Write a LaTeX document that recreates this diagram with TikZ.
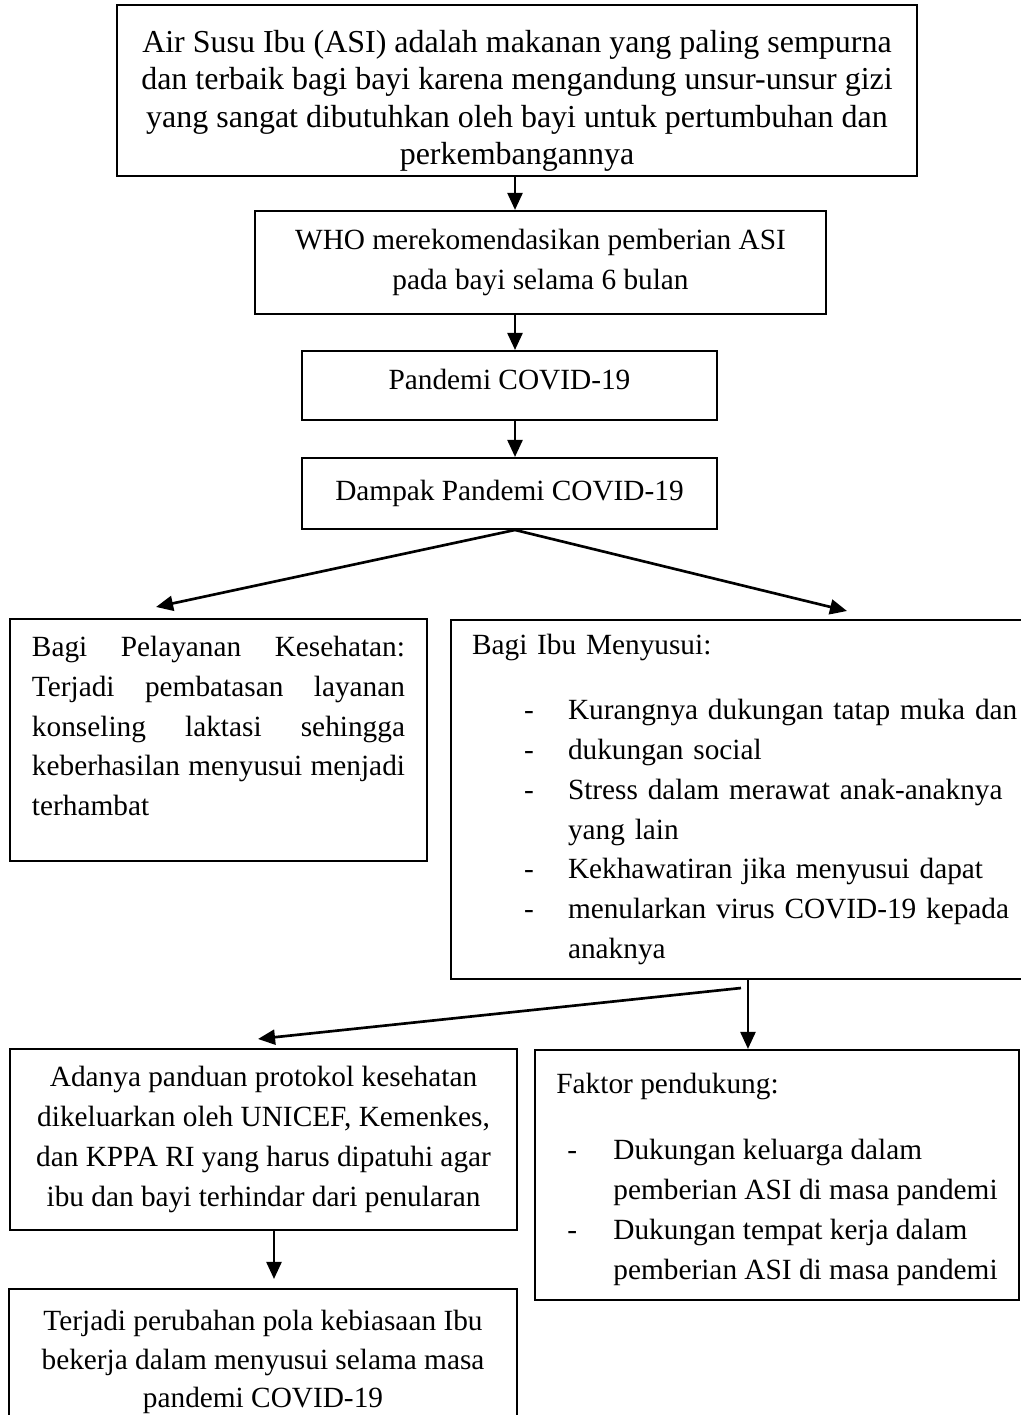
\documentclass[tikz,border=0pt]{standalone}
\usepackage{fontspec}
\setmainfont{Liberation Serif}
\usepackage{tikz}
\usetikzlibrary{arrows.meta}

\newcommand{\dashln}[3]{\hspace*{#1}\makebox[#2][l]{-}#3}
\newcommand{\contln}[2]{\hspace*{#1}#2}

\begin{document}
\begin{tikzpicture}[
    box/.style={rectangle, draw, line width=0.75pt, inner sep=0pt, align=center, font=\fontsize{11}{14.9}\selectfont},
    arrow/.style={-{Triangle[length=6.4pt,width=5.6pt]}, line width=1pt}
]
\useasboundingbox (0,0) rectangle (13.467,-18.664);
\clip (0,0) rectangle (13.467,-18.664);

% Main chain
\node[box, minimum width=10.552cm, minimum height=2.255cm, font=\fontsize{12}{14}\selectfont] (asi) at (6.819,-1.194)
    {\rule{0pt}{16pt}Air Susu Ibu (ASI) adalah makanan yang paling sempurna\\ dan terbaik bagi bayi karena mengandung unsur-unsur gizi\\ yang sangat dibutuhkan oleh bayi untuk pertumbuhan dan\\ perkembangannya};
\node[box, minimum width=7.531cm, minimum height=1.359cm, font=\fontsize{11}{15}\selectfont] (who) at (7.129,-3.462)
    {WHO merekomendasikan pemberian ASI\\ pada bayi selama 6 bulan};
\node[box, minimum width=5.474cm, minimum height=0.910cm] (pandemi) at (6.720,-5.085) {Pandemi COVID-19\rule[-5pt]{0pt}{5pt}};
\node[box, minimum width=5.474cm, minimum height=0.936cm] (dampak) at (6.720,-6.509) {Dampak Pandemi COVID-19};

% Impacts
\node[box, minimum width=5.500cm, minimum height=3.192cm, text width=140pt, align=justify] (layanan) at (2.882,-9.761)
    {Bagi Pelayanan Kesehatan:\linebreak Terjadi pembatasan layanan\linebreak konseling laktasi sehingga\linebreak keberhasilan menyusui menjadi\linebreak terhambat\par\kern10.5pt};
\node[box, anchor=north west, inner xsep=7.9pt, minimum height=4.735cm, text width=215pt, align=left] (ibu) at (5.936,-8.165)
    {Bagi Ibu Menyusui:\\[9.5pt]
     \dashln{19.5pt}{16.5pt}{Kurangnya dukungan tatap muka dan}\\
     \dashln{19.5pt}{16.5pt}{dukungan social}\\
     \dashln{19.5pt}{16.5pt}{Stress dalam merawat anak-anaknya}\\
     \contln{36pt}{yang lain}\\
     \dashln{19.5pt}{16.5pt}{Kekhawatiran jika menyusui dapat}\\
     \dashln{19.5pt}{16.5pt}{menularkan virus COVID-19 kepada}\\
     \contln{36pt}{anaknya}};

% Responses
\node[box, minimum width=6.687cm, minimum height=2.387cm] (panduan) at (3.476,-15.030)
    {Adanya panduan protokol kesehatan\\ dikeluarkan oleh UNICEF, Kemenkes,\\ dan KPPA RI yang harus dipatuhi agar\\ ibu dan bayi terhindar dari penularan};
\node[box, minimum width=6.384cm, minimum height=3.298cm, align=left, font=\fontsize{11}{15}\selectfont] (faktor) at (10.249,-15.498)
    {\rule{0pt}{11pt}Faktor pendukung:\\[9.8pt]
     \dashln{4.1pt}{17.3pt}{Dukungan keluarga dalam}\\
     \contln{21.4pt}{pemberian ASI di masa pandemi}\\
     \dashln{4.1pt}{17.3pt}{Dukungan tempat kerja dalam}\\
     \contln{21.4pt}{pemberian ASI di masa pandemi}};
\node[box, minimum width=6.701cm, minimum height=1.926cm, font=\fontsize{11}{14.5}\selectfont] (pola) at (3.469,-17.965)
    {Terjadi perubahan pola kebiasaan Ibu\\ bekerja dalam menyusui selama masa\\ pandemi COVID-19};

% Arrow ends
\coordinate (mid) at (6.793,0);
\coordinate (tl) at (2.058,-8.006);
\coordinate (tr) at (11.172,-8.059);
\coordinate (sp) at (9.774,-13.032);
\coordinate (tp) at (3.403,-13.704);
\coordinate (sf) at (9.866,0);
\coordinate (tpola) at (3.614,-16.870);

% Arrows
\draw[arrow] (mid |- asi.south) -- (mid |- who.north);
\draw[arrow] (mid |- who.south) -- (mid |- pandemi.north);
\draw[arrow] (mid |- pandemi.south) -- (mid |- dampak.north);
\draw[arrow] (mid |- dampak.south) -- (tl);
\draw[arrow] (mid |- dampak.south) -- (tr);
\draw[arrow] (sp) -- (tp);
\draw[arrow] (sf |- ibu.south) -- (sf |- faktor.north);
\draw[arrow] (tpola |- panduan.south) -- (tpola);

\end{tikzpicture}
\end{document}
